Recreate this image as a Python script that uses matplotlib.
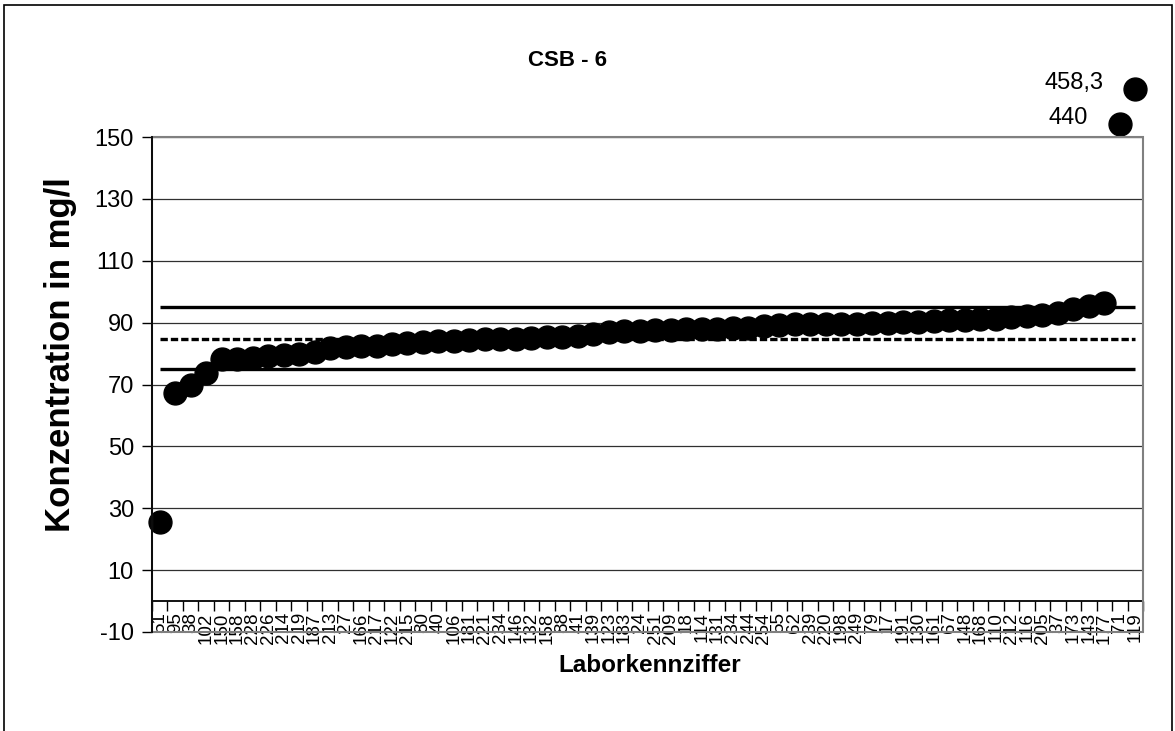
import matplotlib.pyplot as plt
from matplotlib.patches import Rectangle
import numpy as np

plt.rcParams['font.family'] = ['Liberation Sans', 'DejaVu Sans']
plt.rcParams['axes.unicode_minus'] = False

# Laborkennziffern und Messwerte (mg/l), aufsteigend sortiert
labs = ["51", "95", "38", "102", "150", "158", "228", "226", "214", "219",
        "187", "213", "27", "166", "217", "122", "215", "80", "40", "106",
        "181", "221", "234", "146", "132", "158", "88", "41", "139", "123",
        "183", "24", "251", "209", "18", "114", "131", "234", "244", "254",
        "55", "62", "239", "220", "198", "249", "79", "17", "191", "130",
        "161", "67", "148", "168", "110", "212", "116", "205", "37", "173",
        "143", "177", "71", "119"]
values = [25.5, 67.1, 70.0, 73.6, 78.1, 78.4, 78.7, 79.1, 79.4, 79.7,
          80.4, 81.7, 82.0, 82.3, 82.6, 83.0, 83.3, 83.6, 83.9, 83.9,
          84.3, 84.6, 84.6, 84.6, 84.9, 85.2, 85.5, 85.8, 86.4, 86.9,
          87.2, 87.2, 87.5, 87.5, 87.8, 88.1, 88.1, 88.4, 88.4, 88.8,
          89.1, 89.4, 89.4, 89.4, 89.7, 89.7, 90.0, 90.0, 90.3, 90.3,
          90.6, 90.9, 90.9, 91.3, 91.3, 91.9, 92.2, 92.5, 93.2, 94.5,
          95.4, 96.4, 440.0, 458.3]
# Werte ausserhalb der Skala werden knapp ueber dem Diagramm gezeichnet
offscale_drawn = [154.1, 165.4]

upper = 95.0
mean = 84.8
lower = 75.0

ymin, ymax = -10, 150

x = np.arange(len(values))
y_plot = []
k = 0
for v in values:
    if v > ymax:
        y_plot.append(offscale_drawn[k])
        k += 1
    else:
        y_plot.append(v)

fig = plt.figure(figsize=(11.75, 7.31), dpi=100)
ax = fig.add_axes([152 / 1175, 1 - 632 / 731, (1143 - 152) / 1175, (632 - 137) / 731])

# aeusserer Rahmen
fig.patches.append(Rectangle((4 / 1175, -0.05), (1172 - 4) / 1175, 1 - 5 / 731 + 0.05,
                             transform=fig.transFigure, fill=False,
                             edgecolor='black', linewidth=1.2))

ax.set_xlim(-0.5, len(values) - 0.5)
ax.set_ylim(ymin, ymax)

# Gitternetz
for g in range(10, 151, 20):
    ax.axhline(g, color='#303030', linewidth=0.9, zorder=1)

# Grenzlinien
ax.hlines([upper, lower], 0, len(values) - 1, colors='black', linewidth=2.4, zorder=2)
ax.hlines(mean, 0, len(values) - 1, colors='black', linewidth=2.4,
          linestyles=(0, (2.2, 0.9)), zorder=2)

ax.plot(x, y_plot, 'o', color='black', markersize=16.5, clip_on=False, zorder=3)

for i, v in enumerate(values):
    if v > ymax:
        txt = f"{v:g}".replace('.', ',')
        ax.annotate(txt, (x[i], y_plot[i]), xytext=(-32, 6), textcoords='offset pixels',
                    ha='right', va='center', fontsize=17, annotation_clip=False)

# Rahmen der Zeichenflaeche
ax.add_patch(Rectangle((0, 0), 1, 1, transform=ax.transAxes, fill=False,
                       edgecolor='#808080', linewidth=1.5, zorder=4, clip_on=False))

for s in ['top', 'right']:
    ax.spines[s].set_visible(False)
ax.spines['left'].set_color('black')
ax.spines['left'].set_linewidth(1.3)
ax.spines['left'].set_zorder(5)
ax.spines['bottom'].set_position(('data', 0))
ax.spines['bottom'].set_color('black')
ax.spines['bottom'].set_linewidth(1.3)

ax.set_yticks(range(ymin, ymax + 1, 20))
ax.tick_params(axis='y', direction='out', length=7, width=1, labelsize=17, pad=6)

ax.set_xticks(x)
ax.set_xticklabels(labs, rotation=90, fontsize=13.5)
ax.set_xticks(np.arange(-0.5, len(values), 1), minor=True)
ax.tick_params(axis='x', which='major', length=0, pad=8)
ax.tick_params(axis='x', which='minor', direction='out', length=7, width=1)

fig.text(568 / 1175, 1 - 60 / 731, "CSB - 6", ha='center', va='center',
         fontsize=16, fontweight='bold')
fig.text(650 / 1175, 1 - 665 / 731, "Laborkennziffer", ha='center', va='center',
         fontsize=17.5, fontweight='bold')
fig.text(61 / 1175, 1 - 355 / 731, "Konzentration in mg/l", ha='center', va='center',
         rotation=90, fontsize=25, fontweight='bold')

fig.savefig("out.png", dpi=100)
